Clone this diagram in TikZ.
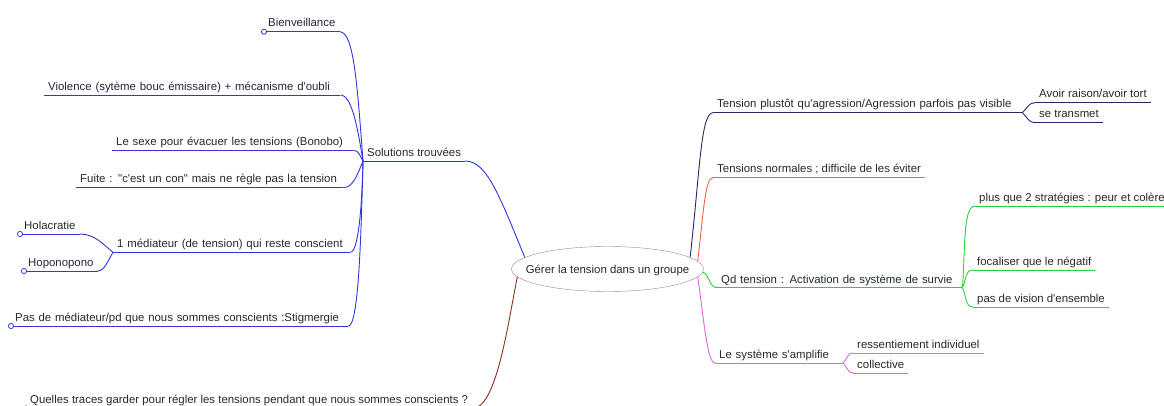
\documentclass[tikz,border=0pt]{standalone}
\usepackage{fontspec}
\setmainfont{Liberation Sans}[Ligatures=TeXOff]
\usetikzlibrary{shapes.geometric}
\definecolor{txtgray}{RGB}{40,40,40}
\definecolor{solblue}{RGB}{45,55,225}
\definecolor{navy}{RGB}{40,40,100}
\definecolor{orangered}{RGB}{240,100,60}
\definecolor{survgreen}{RGB}{40,210,60}
\definecolor{amppink}{RGB}{225,100,225}
\definecolor{tracebrown}{RGB}{130,50,30}
\begin{document}
\begin{tikzpicture}[x=1pt,y=-1pt]

\def\fs{\fontsize{11.4}{13}\selectfont}
\tikzstyle{leaf} = [inner xsep=4pt, inner ysep=2pt, text depth=2.5pt,
	font=\fs, text=txtgray, anchor=south west, align=left];
\tikzstyle{root} = [draw=black!45, ellipse, minimum width=192pt,
	minimum height=45pt, inner sep=0pt, text height=8pt, text depth=0pt,
	font=\fs, text=txtgray];
\tikzstyle{edge} = [line width=0.9pt];
\tikzstyle{knob} = [line width=0.8pt, fill=white];
\useasboundingbox (0,0) rectangle (1164,406);

\node[root] (c) at (607.5,269) {\makebox[0pt]{Gérer la tension dans un groupe}};

% left side
\node[leaf] (sol) at (363,161) {Solutions trouvées};
\node[leaf] (bienv) at (264,31.7) {Bienveillance};
\node[leaf,text width=288pt] (viol) at (44,95) {Violence (sytème bouc émissaire) + mécanisme d'oubli};
\node[leaf,text width=233pt] (sexe) at (112,150.3) {Le sexe pour évacuer les tensions (Bonobo)};
\node[leaf,text width=259pt] (fuite) at (76,187.7) {Fuite : "c'est un con" mais ne règle pas la tension};
\node[leaf,text width=229pt] (medi) at (113,252.3) {1 médiateur (de tension) qui reste conscient};
\node[leaf] (holac) at (20,234) {Holacratie};
\node[leaf] (hopo) at (24,271) {Hoponopono};
\node[leaf,text width=329pt] (pasmed) at (11,326) {Pas de médiateur/pd que nous sommes conscients :Stigmergie};
\node[leaf] (quel) at (26,408.5) {Quelles traces garder pour régler les tensions pendant que nous sommes conscients ?};

% right side
\node[leaf,text width=301pt] (tens) at (713,112.7) {Tension plustôt qu'agression/Agression parfois pas visible};
\node[leaf] (avoir) at (1035,102.7) {Avoir raison/avoir tort};
\node[leaf] (transm) at (1035,122.7) {se transmet};
\node[leaf] (normal) at (713,177.7) {Tensions normales ; difficile de les éviter};
\node[leaf,text width=237pt] (qd) at (717,287.7) {Qd tension : Activation de système de survie};
\node[leaf] (plus) at (975,206) {plus que 2 stratégies : peur et colère};
\node[leaf] (foc) at (973,270) {focaliser que le négatif};
\node[leaf] (vis) at (973,307) {pas de vision d'ensemble};
\node[leaf,text width=120pt] (ampl) at (715,363) {Le système s'amplifie};
\node[leaf] (ress) at (853,353) {ressentiement individuel};
\node[leaf] (coll) at (853,373) {collective};

% underlines
\foreach \n/\col in {sol/solblue,bienv/solblue,viol/solblue,sexe/solblue,fuite/solblue,
	medi/solblue,holac/solblue,hopo/solblue,pasmed/solblue,quel/tracebrown,
	tens/navy,avoir/navy,transm/navy,normal/orangered,qd/survgreen,plus/survgreen,
	foc/survgreen,vis/survgreen,ampl/amppink,ress/amppink,coll/amppink}
	\draw[edge,\col] (\n.south west) -- (\n.south east);

% blue branch
\draw[edge,solblue] (c.172) .. controls +(-25,-60) and +(22,0) .. (sol.south east);
\draw[edge,solblue] (bienv.south east) .. controls +(14,0) and +(-6,-80) .. (sol.south west);
\draw[edge,solblue] (viol.south east) .. controls +(12,0) and +(-5,-30) .. (sol.south west);
\draw[edge,solblue] (sexe.south east) .. controls +(6,0) and +(-3,-4) .. (sol.south west);
\draw[edge,solblue] (fuite.south east) .. controls +(10,0) and +(-5,12) .. (sol.south west);
\draw[edge,solblue] (medi.south east) .. controls +(8,0) and +(-1,45) .. (sol.south west);
\draw[edge,solblue] (pasmed.south east) .. controls +(10,0) and +(-2,80) .. (sol.south west);
\draw[edge,solblue] (holac.south east) .. controls +(15,0) and +(-10,-8) .. (medi.south west);
\draw[edge,solblue] (hopo.south east) .. controls +(7,0) and +(-5,8) .. (medi.south west);

% brown branch
\draw[edge,tracebrown] (c.185) .. controls +(-10,50) and +(24,0) .. (quel.south east);

% right branches
\draw[edge,navy] (c.8) .. controls +(10,-90) and +(-12,0) .. (tens.south west);
\draw[edge,navy] (tens.south east) .. controls +(5,-5) and +(-6,0) .. (avoir.south west);
\draw[edge,navy] (tens.south east) .. controls +(5,5) and +(-6,0) .. (transm.south west);
\draw[edge,orangered] (c.5) .. controls +(6,-50) and +(-8,0) .. (normal.south west);
\draw[edge,survgreen] (c.-2) .. controls +(6,0) and +(-8,0) .. (qd.south west);
\draw[edge,survgreen] (qd.south east) .. controls +(3,-40) and +(-12,0) .. (plus.south west);
\draw[edge,survgreen] (qd.south east) .. controls +(4,-8) and +(-8,0) .. (foc.south west);
\draw[edge,survgreen] (qd.south east) .. controls +(4,8) and +(-8,0) .. (vis.south west);
\draw[edge,amppink] (c.-5) .. controls +(6,40) and +(-8,0) .. (ampl.south west);
\draw[edge,amppink] (ampl.south east) .. controls +(4,-5) and +(-5,0) .. (ress.south west);
\draw[edge,amppink] (ampl.south east) .. controls +(4,5) and +(-5,0) .. (coll.south west);

% folded markers
\foreach \n/\col in {bienv/solblue,holac/solblue,hopo/solblue,pasmed/solblue,quel/tracebrown}
	\draw[\col,knob] (\n.south west) circle (2.6pt);

\end{tikzpicture}
\end{document}
